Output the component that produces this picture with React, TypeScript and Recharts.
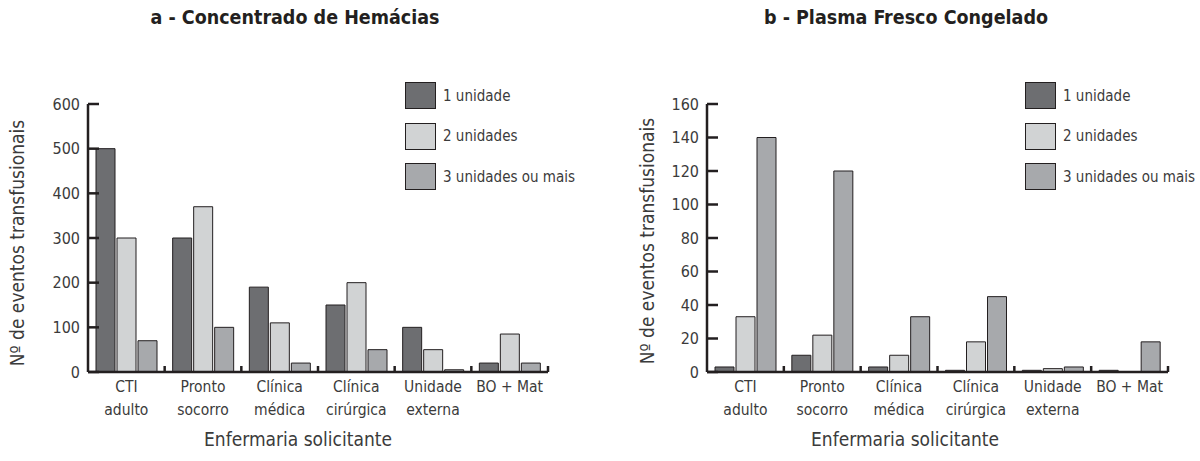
import { BarChart, Bar, XAxis, YAxis } from "recharts"

const categories = ["CTI\nadulto", "Pronto\nsocorro", "Clínica\nmédica", "Clínica\ncirúrgica", "Unidade\nexterna", "BO + Mat"]
const seriesNames = ["1 unidade", "2 unidades", "3 unidades ou mais"]

// a - Concentrado de Hemácias
const hemaciasUm = [500, 300, 190, 150, 100, 20]
const hemaciasDois = [300, 370, 110, 200, 50, 85]
const hemaciasTres = [70, 100, 20, 50, 5, 20]
const hemaciasTicks = [0, 100, 200, 300, 400, 500, 600]

// b - Plasma Fresco Congelado
const plasmaUm = [3, 10, 3, 1, 1, 1]
const plasmaDois = [33, 22, 10, 18, 2, 0]
const plasmaTres = [140, 120, 33, 45, 3, 18]
const plasmaTicks = [0, 20, 40, 60, 80, 100, 120, 140, 160]

const FONT = "'DejaVu Sans Condensed', 'Liberation Sans Narrow', Arial, sans-serif"
const TEXT = "#3b3b3b"
const INK = "#231f20"
const fills = ["#6d6e71", "#d1d3d4", "#a7a9ac"]

const build = (a: number[], b: number[], c: number[]) =>
  categories.map((name, i) => ({ name, s1: a[i], s2: b[i], s3: c[i] }))

const hemaciasData = build(hemaciasUm, hemaciasDois, hemaciasTres)
const plasmaData = build(plasmaUm, plasmaDois, plasmaTres)

const YTick = (props: any) => {
  const { x, y, payload } = props
  return (
    <g>
      <line x1={x} x2={x + 11} y1={y} y2={y} stroke={INK} strokeWidth={2.5} />
      <text x={x - 8} y={y} textAnchor="end" dominantBaseline="central" fill={TEXT} fontSize={16} fontFamily={FONT}>
        {payload.value}
      </text>
    </g>
  )
}

const XTick = (props: any) => {
  const { x, y, payload, band } = props
  const lines = String(payload.value).split("\n")
  return (
    <g>
      <line x1={x + band / 2} x2={x + band / 2} y1={y} y2={y - 6} stroke={INK} strokeWidth={2.5} />
      {lines.map((l: string, i: number) => (
        <text key={i} x={x} y={y + 20 + i * 23} textAnchor="middle" fill={TEXT} fontSize={15.5} fontFamily={FONT}>
          {l}
        </text>
      ))}
    </g>
  )
}

const LegendBoxes = ({ left }: { left: number }) => (
  <div style={{ position: "absolute", left, top: 82, fontFamily: FONT }}>
    {seriesNames.map((n, i) => (
      <div key={n} style={{ display: "flex", alignItems: "center", height: 27, marginBottom: i < 2 ? 13.5 : 0 }}>
        <div style={{ width: 29, height: 25, background: fills[i], border: `1px solid ${INK}` }} />
        <span style={{ marginLeft: 7, fontSize: 15, color: TEXT, whiteSpace: "nowrap" }}>{n}</span>
      </div>
    ))}
  </div>
)

function Panel({ data, ticks, max, left, right }: any) {
  const width = 600
  const plotW = width - left - right
  const band = plotW / categories.length
  return (
    <BarChart
      width={width}
      height={461}
      data={data}
      margin={{ top: 104, right, bottom: 0, left: 0 }}
      barCategoryGap={8}
      barGap={2}
    >
      <XAxis
        dataKey="name"
        height={89}
        interval={0}
        tickLine={false}
        tickSize={0}
        tickMargin={0}
        axisLine={{ stroke: INK, strokeWidth: 2.5 }}
        tick={<XTick band={band} />}
      />
      <YAxis
        width={left}
        domain={[0, max]}
        ticks={ticks}
        interval={0}
        tickLine={false}
        tickSize={0}
        tickMargin={0}
        axisLine={{ stroke: INK, strokeWidth: 2.5 }}
        tick={<YTick />}
      />
      <Bar dataKey="s1" name={seriesNames[0]} fill={fills[0]} stroke={INK} strokeWidth={1} isAnimationActive={false} />
      <Bar dataKey="s2" name={seriesNames[1]} fill={fills[1]} stroke={INK} strokeWidth={1} isAnimationActive={false} />
      <Bar dataKey="s3" name={seriesNames[2]} fill={fills[2]} stroke={INK} strokeWidth={1} isAnimationActive={false} />
    </BarChart>
  )
}

export default function App() {
  return (
    <div style={{ position: "absolute", left: 0, top: 0, width: 1200, height: 461, background: "#fff" }}>
      <div style={{ position: "absolute", left: 0, top: 0 }}>
        <Panel data={hemaciasData} ticks={hemaciasTicks} max={600} left={88} right={52} />
      </div>
      <div style={{ position: "absolute", left: 600, top: 0 }}>
        <Panel data={plasmaData} ticks={plasmaTicks} max={160} left={107} right={32} />
      </div>
      <LegendBoxes left={405} />
      <LegendBoxes left={1025} />
      <svg width={1200} height={461} style={{ position: "absolute", left: 0, top: 0, pointerEvents: "none" }}>
        <g fontFamily={FONT} fill={TEXT}>
          <text x={295} y={24} textAnchor="middle" fontSize={19.5} fontWeight="bold" fill="#231f20">
            a - Concentrado de Hemácias
          </text>
          <text x={906} y={24} textAnchor="middle" fontSize={19.5} fontWeight="bold" fill="#231f20">
            b - Plasma Fresco Congelado
          </text>
          <text x={24} y={243} textAnchor="middle" fontSize={19} transform="rotate(-90 24 243)">
            Nº de eventos transfusionais
          </text>
          <text x={654} y={241} textAnchor="middle" fontSize={19} transform="rotate(-90 654 241)">
            Nº de eventos transfusionais
          </text>
          <text x={298} y={446} textAnchor="middle" fontSize={19}>
            Enfermaria solicitante
          </text>
          <text x={905} y={446} textAnchor="middle" fontSize={19}>
            Enfermaria solicitante
          </text>
        </g>
      </svg>
    </div>
  )
}
